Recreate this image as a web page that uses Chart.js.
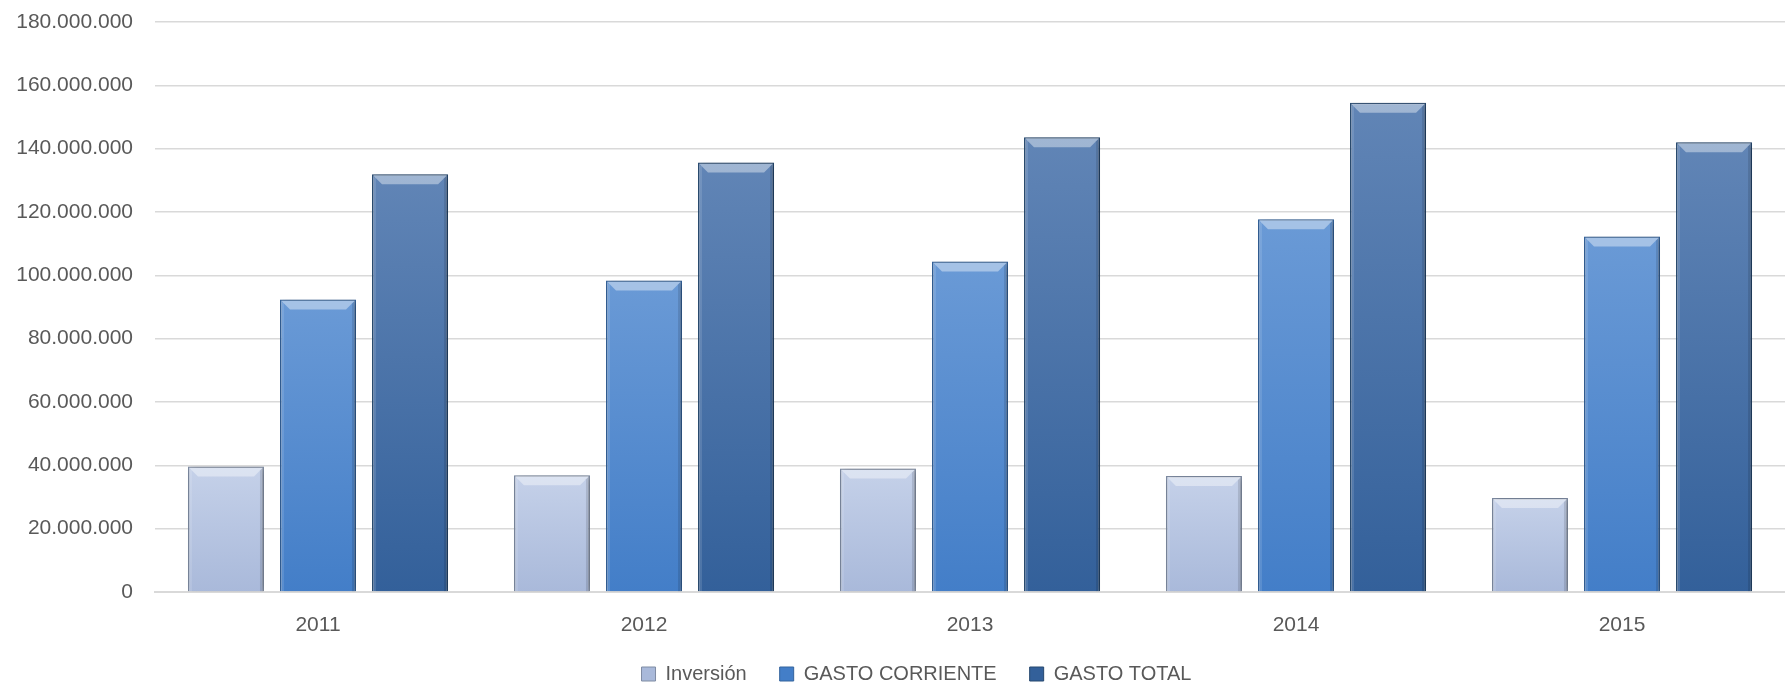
<!DOCTYPE html>
<html>
<head>
<meta charset="utf-8">
<script src="https://cdn.jsdelivr.net/npm/chart.js@4.4.1/dist/chart.umd.min.js"></script>
<style>
  html, body { margin: 0; padding: 0; background: #fff; }
  #wrap { width: 1785px; height: 685px; }
</style>
</head>
<body>
<div id="wrap"><canvas id="myChart"></canvas></div>
<script>
const years = ["2011", "2012", "2013", "2014", "2015"];
const inversion = [39600000, 36900000, 39000000, 36600000, 29700000];
const gastoCorriente = [92400000, 98400000, 104400000, 117700000, 112300000];
const gastoTotal = [131900000, 135600000, 143600000, 154500000, 142000000];
const seriesNames = ["Inversión", "GASTO CORRIENTE", "GASTO TOTAL"];

// colores: [arriba, abajo, borde]
const colors = [
  ["#c5d1e9", "#a9b9da", "#7f8ca3"],
  ["#6a9ad6", "#437ec8", "#35649d"],
  ["#6185b6", "#33609a", "#26486f"],
];

const FONT = { family: "Liberation Sans", size: 21 };
const GRAY = "#595959";

// degradado por barra, usando la escala y
function grad(i) {
  return function (context) {
    const chart = context.chart;
    const y = chart.scales.y;
    if (!chart.chartArea || !y || context.raw == null) return colors[i][1];
    const top = y.getPixelForValue(context.raw);
    const bottom = y.getPixelForValue(0);
    const g = chart.ctx.createLinearGradient(0, top, 0, bottom);
    g.addColorStop(0, colors[i][0]);
    g.addColorStop(1, colors[i][1]);
    return g;
  };
}

function fmt(v) {
  return String(v).replace(/\B(?=(\d{3})+(?!\d))/g, ".");
}

// sombra + bisel estilo excel, y ajuste de la leyenda
const bevel = {
  id: "bevel",
  beforeInit(chart) {
    const fit = chart.legend.fit;
    chart.legend.fit = function () {
      fit.call(this);
      this.height = 43;
    };
  },
  afterLayout(chart) {
    const lg = chart.legend;
    lg.top = chart.height - 54;
    lg.height = 54;
    lg.bottom = chart.height;
    lg.left = 48;
  },
  beforeDatasetsDraw(chart) {
    const ctx = chart.ctx;
    ctx.save();
    ctx.shadowColor = "rgba(0,0,0,0.35)";
    ctx.shadowBlur = 7;
    ctx.shadowOffsetX = 2;
    ctx.shadowOffsetY = 1;
  },
  afterDatasetsDraw(chart) {
    const ctx = chart.ctx;
    ctx.restore();
    chart.data.datasets.forEach((ds, i) => {
      chart.getDatasetMeta(i).data.forEach((bar) => {
        const p = bar.getProps(["x", "y", "base", "width"], true);
        const l = p.x - p.width / 2 + 1, r = p.x + p.width / 2 - 1, t = p.y + 1, d = 9;
        ctx.save();
        ctx.fillStyle = "rgba(255,255,255,0.4)";
        ctx.beginPath();
        ctx.moveTo(l, t); ctx.lineTo(r, t); ctx.lineTo(r - d, t + d); ctx.lineTo(l + d, t + d);
        ctx.closePath(); ctx.fill();
        ctx.fillStyle = "rgba(0,0,0,0.12)";
        ctx.beginPath();
        ctx.moveTo(r, t); ctx.lineTo(r, p.base); ctx.lineTo(r - 3, p.base); ctx.lineTo(r - 3, t + 3);
        ctx.closePath(); ctx.fill();
        ctx.fillStyle = "rgba(255,255,255,0.12)";
        ctx.fillRect(l, t + 2, 3, p.base - t - 2);
        ctx.restore();
      });
    });
  },
};

const ctx = document.getElementById("myChart").getContext("2d");
const myChart = new Chart(ctx, {
  type: "bar",
  data: {
    labels: years,
    datasets: [
      { label: seriesNames[0], data: inversion, backgroundColor: grad(0), borderColor: colors[0][2], borderWidth: 1.5 },
      { label: seriesNames[1], data: gastoCorriente, backgroundColor: grad(1), borderColor: colors[1][2], borderWidth: 1.5 },
      { label: seriesNames[2], data: gastoTotal, backgroundColor: grad(2), borderColor: colors[2][2], borderWidth: 1.5 },
    ],
  },
  options: {
    responsive: true,
    maintainAspectRatio: false,
    animation: false,
    categoryPercentage: 0.847,
    barPercentage: 0.826,
    layout: { padding: { left: 0, right: 0, top: 22, bottom: 0 } },
    plugins: {
      tooltip: { enabled: false },
      legend: {
        position: "bottom",
        labels: {
          color: GRAY,
          font: { family: "Liberation Sans", size: 20 },
          boxWidth: 14,
          boxHeight: 14,
          padding: 33,
          generateLabels(chart) {
            return chart.data.datasets.map((ds, i) => ({
              text: ds.label,
              fillStyle: colors[i][1],
              strokeStyle: colors[i][2],
              fontColor: GRAY,
              lineWidth: 1,
              datasetIndex: i,
            }));
          },
        },
      },
    },
    scales: {
      x: {
        afterFit(scale) { scale.height = 50; },
        grid: { display: false, drawTicks: false },
        border: { color: "#d9d9d9", width: 2 },
        ticks: { color: GRAY, font: FONT, padding: 21 },
      },
      y: {
        min: 0,
        max: 180000000,
        afterFit(scale) { scale.width = 155; scale.paddingTop = 0; },
        grid: { color: "#d9d9d9", lineWidth: 1.5, drawTicks: false },
        border: { display: false },
        ticks: {
          stepSize: 20000000,
          color: GRAY,
          font: FONT,
          padding: 22,
          callback: (v) => fmt(v),
        },
      },
    },
  },
  plugins: [bevel],
});
</script>
</body>
</html>
